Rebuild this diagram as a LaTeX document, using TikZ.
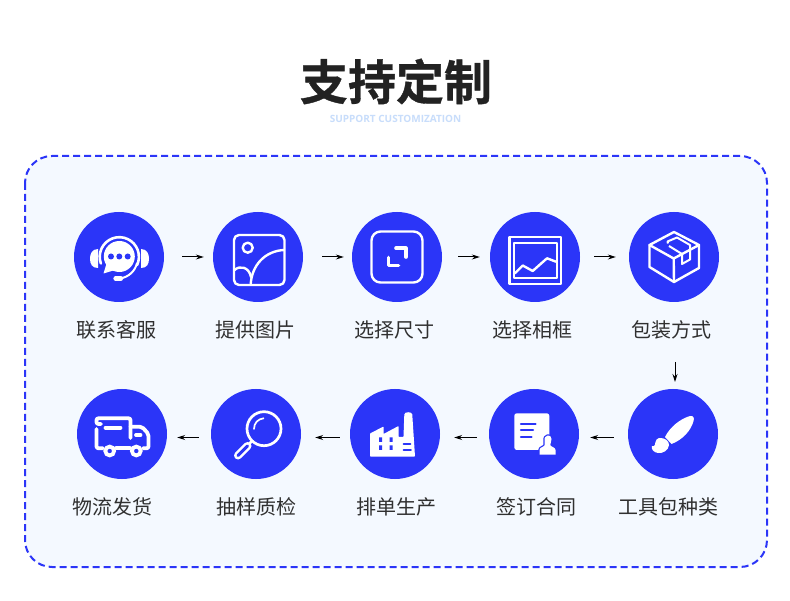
\documentclass[tikz,border=0pt]{standalone}
\usepackage{fontspec}
\usetikzlibrary{arrows.meta}
\newfontfamily\cjk{Noto Sans CJK SC}
\newfontfamily\cjkbold[FakeBold=0.8]{Noto Sans CJK SC Bold}
\newfontfamily\subfont{Open Sans}
\definecolor{brandblue}{HTML}{2B35F8}
\definecolor{panelbg}{HTML}{F4F9FF}
\definecolor{labelgray}{HTML}{303030}
\definecolor{titlegray}{HTML}{222222}
\definecolor{subblue}{HTML}{C8DDFB}
\tikzset{
  disc/.style={circle,fill=brandblue,minimum size=90pt,inner sep=0pt},
  caption/.style={font=\cjk\fontsize{20}{24}\selectfont,text=labelgray,inner sep=0pt},
  flow/.style={draw=black,line width=1pt,-{Stealth[length=8pt,width=5pt]}},
  wline/.style={draw=white,line width=2.4pt,line join=round,line cap=round},
  bline/.style={draw=brandblue,line cap=round,line join=round},
  truckline/.style={draw=white,line width=3.8pt,line cap=round,line join=round},
}
\begin{document}
\begin{tikzpicture}[x=1pt,y=-1pt]
\useasboundingbox (0,0) rectangle (790,601);
\fill[white] (0,0) rectangle (790,601);
\node[inner sep=0pt,font=\cjkbold\fontsize{48}{50}\selectfont,text=titlegray] (title) at (396,81.5) {支持定制};
\node[inner sep=0pt,font=\subfont\bfseries\fontsize{10}{11}\selectfont,text=subblue] (subtitle) at (395.5,119) {SUPPORT CUSTOMIZATION};
\draw[draw=brandblue,fill=panelbg,line width=2pt,dash pattern=on 7pt off 4pt,rounded corners=27pt] (25,156) rectangle (767,567);

\node[disc] (c1) at (119,257) {};
\node[disc] (c2) at (258,257) {};
\node[disc] (c3) at (397,257) {};
\node[disc] (c4) at (535,257) {};
\node[disc] (c5) at (674,257) {};
\node[disc] (c6) at (673,434) {};
\node[disc] (c7) at (534,434) {};
\node[disc] (c8) at (395,434) {};
\node[disc] (c9) at (256,434) {};
\node[disc] (c10) at (122,434) {};

\node[caption] (t1) at (116.7,330) {联系客服};
\node[caption] (t2) at (255.7,330) {提供图片};
\node[caption] (t3) at (394.7,330) {选择尺寸};
\node[caption] (t4) at (532.7,330) {选择相框};
\node[caption] (t5) at (671.7,330) {包装方式};
\node[caption] (t6) at (668.7,507) {工具包种类};
\node[caption] (t7) at (536.7,507) {签订合同};
\node[caption] (t8) at (396.7,507) {排单生产};
\node[caption] (t9) at (256.7,507) {抽样质检};
\node[caption] (t10) at (112.7,507) {物流发货};

\draw[flow,shorten <=18pt,shorten >=9pt] (c1.east) -- (c2.west);
\draw[flow,shorten <=19pt,shorten >=8pt] (c2.east) -- (c3.west);
\draw[flow,shorten <=16pt,shorten >=10pt] (c3.east) -- (c4.west);
\draw[flow,shorten <=14pt,shorten >=13pt] (c4.east) -- (c5.west);
\coordinate (vs) at (675,362);
\coordinate (ve) at (675,382);
\draw[flow] (vs) -- (ve);
\draw[flow,shorten <=14pt,shorten >=11pt] ([yshift=-3.5pt]c6.west) -- ([yshift=-3.5pt]c7.east);
\draw[flow,shorten <=12pt,shorten >=14pt] ([yshift=-3.5pt]c7.west) -- ([yshift=-3.5pt]c8.east);
\draw[flow,shorten <=10pt,shorten >=14pt] ([yshift=-3.5pt]c8.west) -- ([yshift=-3.5pt]c9.east);
\draw[flow,shorten <=12pt,shorten >=10pt] ([yshift=-3.5pt]c9.west) -- ([yshift=-3.5pt]c10.east);

% headset
\fill[white] (119.3,256.5) circle[radius=15.5pt];
\fill[white] (107,262) -- (103.5,273.5) -- (115,270) -- cycle;
\fill[brandblue] (111,256.5) circle[radius=3pt] (119.3,256.5) circle[radius=3pt] (127.7,256.5) circle[radius=3pt];
\draw[white,line width=2.6pt,line cap=round] (100.9,263.5) arc[start angle=200,end angle=-25,radius=19.6pt];
\draw[white,line width=2pt,line cap=round] (137,263.3) .. controls (135,271) and (129,277) .. (120,278.5);
\draw[white,line width=4.2pt,line cap=round] (115.5,278.5) -- (121,278.5);
\fill[white] (98,249) .. controls (92,249) and (90,254) .. (90,258.5) .. controls (90,264) and (92,268) .. (98,268) -- cycle;
\fill[white] (141,249) .. controls (147,249) and (149,254) .. (149,258.5) .. controls (149,264) and (147,268) .. (141,268) -- cycle;

% picture
\draw[wline,rounded corners=5pt] (234,235) rectangle (284.5,285);
\draw[wline] (247.7,247.7) circle[radius=5pt];
\draw[wline] (250.7,284) .. controls (252,265) and (265,251) .. (284,250);
\draw[wline] (234.5,270) .. controls (240,265) and (249,267) .. (251,277);

% size
\draw[wline,rounded corners=9pt] (371.5,231.5) rectangle (422.5,282.5);
\draw[white,line width=3.6pt,line join=round,line cap=round] (396,248.3) -- (406,248.3) -- (406,257);
\draw[white,line width=3.6pt,line join=round,line cap=round] (388.5,257.5) -- (388.5,265.5) -- (398.5,265.5);

% frame
\draw[wline] (509.5,237) rectangle (561.2,284);
\draw[wline] (514,243) rectangle (557,278);
\draw[wline] (515,273.3) -- (522.7,265.5) -- (532.7,271) -- (547,258.3) -- (556,261.7);

% box
\draw[wline] (674,232) -- (699,245) -- (699,268) -- (674,282) -- (649.5,267) -- (649.5,245) -- cycle;
\draw[wline] (649.5,245) -- (673.7,258.5) -- (699,245);
\draw[wline] (673.7,258.5) -- (674,282);
\draw[white,line width=2pt,line join=round] (668,243.5) -- (667.5,241.5) -- (677,237.5) -- (690,245) -- (690,259.5) -- (682,264) -- (682,254) -- (669,246);

% brush
\fill[white] (665,437) .. controls (670,427) and (680,419) .. (690,416) .. controls (693.5,415.5) and (694.5,418) .. (693.5,421) .. controls (691,431) and (682,440) .. (671.5,444) -- cycle;
\fill[white] (659,438) .. controls (665,437.5) and (669,441) .. (669,445) .. controls (668.5,450.5) and (663,453.5) .. (658,453) .. controls (654,452.5) and (651,449.5) .. (651.8,446) .. controls (655,447) and (655.5,444) .. (655.5,442) .. controls (655.5,440) and (657.5,438.5) .. (659,438) -- cycle;

% contract
\fill[white,rounded corners=2.5pt] (514.3,413.3) rectangle (549.3,450);
\draw[bline,line width=2.2pt] (521,424.3) -- (535.5,424.3) (521,430) -- (533,430) (521,436.7) -- (531.5,436.7);
\draw[brandblue,fill=white,line width=2.5pt,line join=round] (544.5,441) .. controls (543.5,434.5) and (551.5,433.5) .. (551.5,439) .. controls (551.5,442) and (550,442) .. (550.3,445) .. controls (550.5,447) and (555.5,447) .. (555.5,450) -- (555.5,454.5) -- (539.5,454.5) -- (539.5,450) .. controls (539.5,447) and (544.5,447) .. (544.7,445) .. controls (544.8,443) and (544.5,442) .. (544.5,441) -- cycle;
\fill[white] (544.5,441) .. controls (543.5,434.5) and (551.5,433.5) .. (551.5,439) .. controls (551.5,442) and (550,442) .. (550.3,445) .. controls (550.5,447) and (555.5,447) .. (555.5,450) -- (555.5,454.5) -- (539.5,454.5) -- (539.5,450) .. controls (539.5,447) and (544.5,447) .. (544.7,445) .. controls (544.8,443) and (544.5,442) .. (544.5,441) -- cycle;

% factory
\fill[white,rounded corners=0.6pt] (370,433.5) -- (383.5,426.5) -- (383.5,434) -- (398.5,426) -- (398.5,437) -- (403.5,437) -- (404.3,415) .. controls (404.5,411.5) and (412,411.5) .. (412.3,415) -- (415,456.5) -- (370,456.5) -- cycle;
\fill[brandblue] (379,437.5) rectangle (382,442) (379,445.5) rectangle (382,450) (389.5,437.5) rectangle (392.5,442) (389.5,445.5) rectangle (392.5,450);
\draw[bline,line width=1.8pt] (403.5,444.3) -- (410.5,444.3) (403.5,450) -- (411,450);

% magnifier
\draw[white,line width=2.7pt] (264,428.7) circle[radius=17pt];
\draw[white,line width=1.7pt,line cap=round] (254,429) .. controls (254,423) and (258,419) .. (263.5,418.3);
\draw[white,line width=2.7pt] (252,441) -- (248,445);
\draw[white,line width=8pt,line cap=round] (247.5,446) -- (238,455.5);
\draw[brandblue,line width=3pt,line cap=round] (247.5,446) -- (238,455.5);

% truck
\draw[truckline,rounded corners=2pt] (101,424) -- (96.5,424) -- (96.5,418.3) -- (130.5,418.3) -- (130.5,438);
\draw[truckline,rounded corners=2pt] (96.5,429) -- (96.5,448.3) -- (103,448.3);
\draw[truckline] (116,448.3) -- (130,448.3);
\draw[truckline,rounded corners=2pt] (130.5,426.8) -- (142,426.8) -- (148.5,434) -- (148.5,448.3) -- (143,448.3);
\draw[truckline] (105.5,427.7) -- (120.5,427.7);
\draw[truckline] (136,435) -- (140.5,435);
\draw[white,line width=3.8pt] (109.7,451) circle[radius=4.4pt] (136.3,451) circle[radius=4.4pt];
\end{tikzpicture}
\end{document}
